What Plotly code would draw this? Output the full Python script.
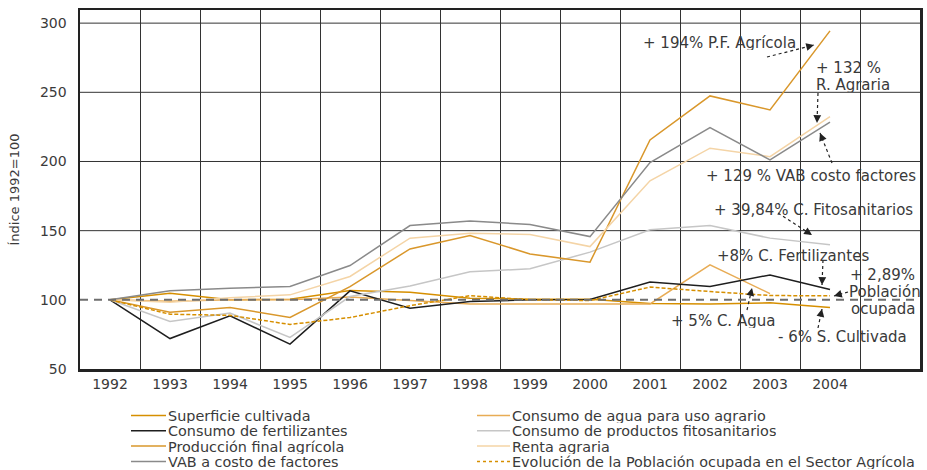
import math
import plotly.graph_objects as go

# ---------------- data ----------------
YEARS = ["1992", "1993", "1994", "1995", "1996", "1997", "1998",
         "1999", "2000", "2001", "2002", "2003", "2004"]
Y_TICKS = [50, 100, 150, 200, 250, 300]
Y_GRID = [150, 200, 250, 300]
BASE = 100

superficie = [100, 104.8, 100, 100.5, 106.7, 105.5, 101.2, 100.5, 100.5, 97.3, 97, 97.8, 94.4]
agua = [100, 99, 100, 100, 102, 99.5, 97, 97, 97, 97, 125.3, 104.5, None]
fertilizantes = [100, 72, 88.4, 68, 106.5, 94, 98.8, 100, 100.3, 112.8, 109.6, 118, 107.5]
fitosanitarios = [100, 84.3, 90.4, 72.8, 102.4, 110, 120.3, 122.4, 134.5, 150.6, 153.7, 144.6, 139.8]
produccion = [100, 91, 94.5, 87.2, 109.6, 136.8, 146.5, 133.2, 127.2, 215.6, 247.4, 237.3, 294.4]
renta = [100, 98.3, 101.5, 103.6, 116.9, 144.6, 148.2, 147.2, 138.5, 186, 209.6, 203.5, 232.4]
vab = [100, 106.5, 108.4, 109.6, 124.8, 153.7, 157, 154.4, 145.7, 199.2, 224.5, 201.2, 228.4]
poblacion = [100, 89.6, 88.8, 82.2, 87.2, 95.8, 103, 100, 99.5, 109.2, 106, 103.1, 102.9]

NAMES = [
    "Superficie cultivada",
    "Consumo de agua para uso agrario",
    "Consumo de fertilizantes",
    "Consumo de productos fitosanitarios",
    "Producción final agrícola",
    "Renta agraria",
    "VAB a costo de factores",
    "Evolución de la Población ocupada en el Sector Agrícola",
]
VALUES = [superficie, agua, fertilizantes, fitosanitarios, produccion, renta, vab, poblacion]

NOTES = [
    "+ 194% P.F. Agrícola",
    "+ 132 %",
    "R. Agraria",
    "+ 129 % VAB costo factores",
    "+ 39,84% C. Fitosanitarios",
    "+8% C. Fertilizantes",
    "+ 2,89%",
    "Población",
    "ocupada",
    "+ 5% C. Agua",
    "- 6% S. Cultivada",
]

# ---------------- styles ----------------
STYLES = [
    dict(color="#D68F00", width=1.5, dash="solid"),
    dict(color="#E8AC55", width=1.5, dash="solid"),
    dict(color="#1E1E1E", width=1.5, dash="solid"),
    dict(color="#C6C6C6", width=1.5, dash="solid"),
    dict(color="#D9972B", width=1.5, dash="solid"),
    dict(color="#F4D4A6", width=1.5, dash="solid"),
    dict(color="#8A8A8A", width=1.5, dash="solid"),
    dict(color="#D68F00", width=1.5, dash="4px,2px"),
]
FONT = "DejaVu Sans"
TXT = "#3a3a3a"

# plot area in pixels
PL, PR, PT, PB = 80, 920, 10, 369


def fx(xp):
    return (xp - PL) / (PR - PL)


def fy(yp):
    return (PB - yp) / (PB - PT)


fig = go.Figure()
xs = list(range(len(YEARS)))
for name, vals, st in zip(NAMES, VALUES, STYLES):
    fig.add_trace(go.Scatter(x=xs, y=vals, mode="lines", name=name,
                             line=dict(color=st["color"], width=st["width"], dash=st["dash"]),
                             connectgaps=False, showlegend=False, hoverinfo="skip"))

shapes = []
for v in Y_GRID:
    shapes.append(dict(type="line", xref="paper", x0=0, x1=1, yref="y", y0=v, y1=v,
                       line=dict(color="#333333", width=1), layer="below"))
shapes.append(dict(type="line", xref="paper", x0=0, x1=1, yref="y", y0=BASE, y1=BASE,
                   line=dict(color="#6e6e6e", width=2, dash="8px,6px"), layer="above"))

annotations = []
# annotation texts: (left px, center y px)
note_pos = [(642, 42), (815, 67), (815, 84), (705, 175), (713, 209), (716, 255),
            (849, 274), (848, 291), (850, 308), (670, 320), (777, 336)]
for t, (xp, yp) in zip(NOTES, note_pos):
    annotations.append(dict(text=t, xref="paper", yref="paper", x=fx(xp), y=fy(yp),
                            xanchor="left", yanchor="middle", showarrow=False,
                            borderpad=0, height=15,
                            font=dict(family=FONT, size=15, color=TXT)))

# dotted arrows: (tail, head) in pixels
arrows = [((767, 57), (814, 45)), ((818, 93), (817, 123)), ((832, 163), (820, 133)),
          ((778, 213), (812, 235)), ((823, 260), (822, 285)), ((848, 292), (834, 296)),
          ((747, 310), (752, 288)), ((818, 328), (822, 309))]
for (tx, ty), (hx, hy) in arrows:
    shapes.append(dict(type="line", xref="paper", yref="paper", x0=fx(tx), y0=fy(ty),
                       x1=fx(hx), y1=fy(hy), line=dict(color="#222", width=1.2, dash="dot"),
                       layer="above"))
    dx, dy = tx - hx, ty - hy
    L = math.hypot(dx, dy)
    annotations.append(dict(text="", xref="paper", yref="paper", x=fx(hx), y=fy(hy),
                            ax=dx / L * 8, ay=dy / L * 8, showarrow=True, arrowhead=2,
                            arrowsize=1.3, arrowwidth=1.2, arrowcolor="#222", standoff=0))

# manual legend
rows_y = [415.5, 430.8, 446.1, 461.4]
cols = [(131, 166, 167), (477, 510, 511)]
for i, (name, st) in enumerate(zip(NAMES, STYLES)):
    r, c = i // 2, i % 2
    x0, x1, xt = cols[c]
    yp = rows_y[r]
    shapes.append(dict(type="line", xref="paper", yref="paper", x0=fx(x0), x1=fx(x1),
                       y0=fy(yp), y1=fy(yp),
                       line=dict(color=st["color"], width=st["width"],
                                 dash="dot" if st["dash"] != "solid" else "solid")))
    annotations.append(dict(text=name, xref="paper", yref="paper", x=fx(xt), y=fy(yp),
                            xanchor="left", yanchor="middle", showarrow=False,
                            borderpad=0, height=15,
                            font=dict(family=FONT, size=14.4, color=TXT)))

fig.update_layout(
    width=927, height=470,
    margin=dict(l=PL, r=927 - PR, t=PT, b=470 - PB, autoexpand=False),
    paper_bgcolor="white", plot_bgcolor="white",
    font=dict(family=FONT, color=TXT),
    showlegend=False,
    shapes=shapes, annotations=annotations,
    xaxis=dict(range=[-0.5, len(YEARS) - 0.5 + 1], tickmode="array", tickvals=xs, ticktext=YEARS,
               showgrid=False, zeroline=False, ticks="", showline=True, mirror=True,
               linecolor="#222", linewidth=2.5, tickfont=dict(size=14, color=TXT),
               ticklabelstandoff=1, automargin=False,
               minor=dict(tickvals=[i + 0.5 for i in range(len(YEARS))], showgrid=True,
                          gridcolor="#333333", gridwidth=1, ticks="")),
    yaxis=dict(range=[50, 309.5], tickmode="array", tickvals=Y_TICKS, showgrid=False,
               zeroline=False, ticks="", showline=True, mirror=True, linecolor="#222",
               linewidth=2.5, tickfont=dict(size=14, color=TXT), ticklabelstandoff=8,
               automargin=False,
               title=dict(text="Índice 1992=100", font=dict(size=13, color=TXT), standoff=18)),
)

fig.write_html("out.html", config={"displayModeBar": False, "staticPlot": True},
               post_script="document.body.style.margin='0';document.body.style.padding='0';"
                           "document.body.style.overflow='hidden';")
